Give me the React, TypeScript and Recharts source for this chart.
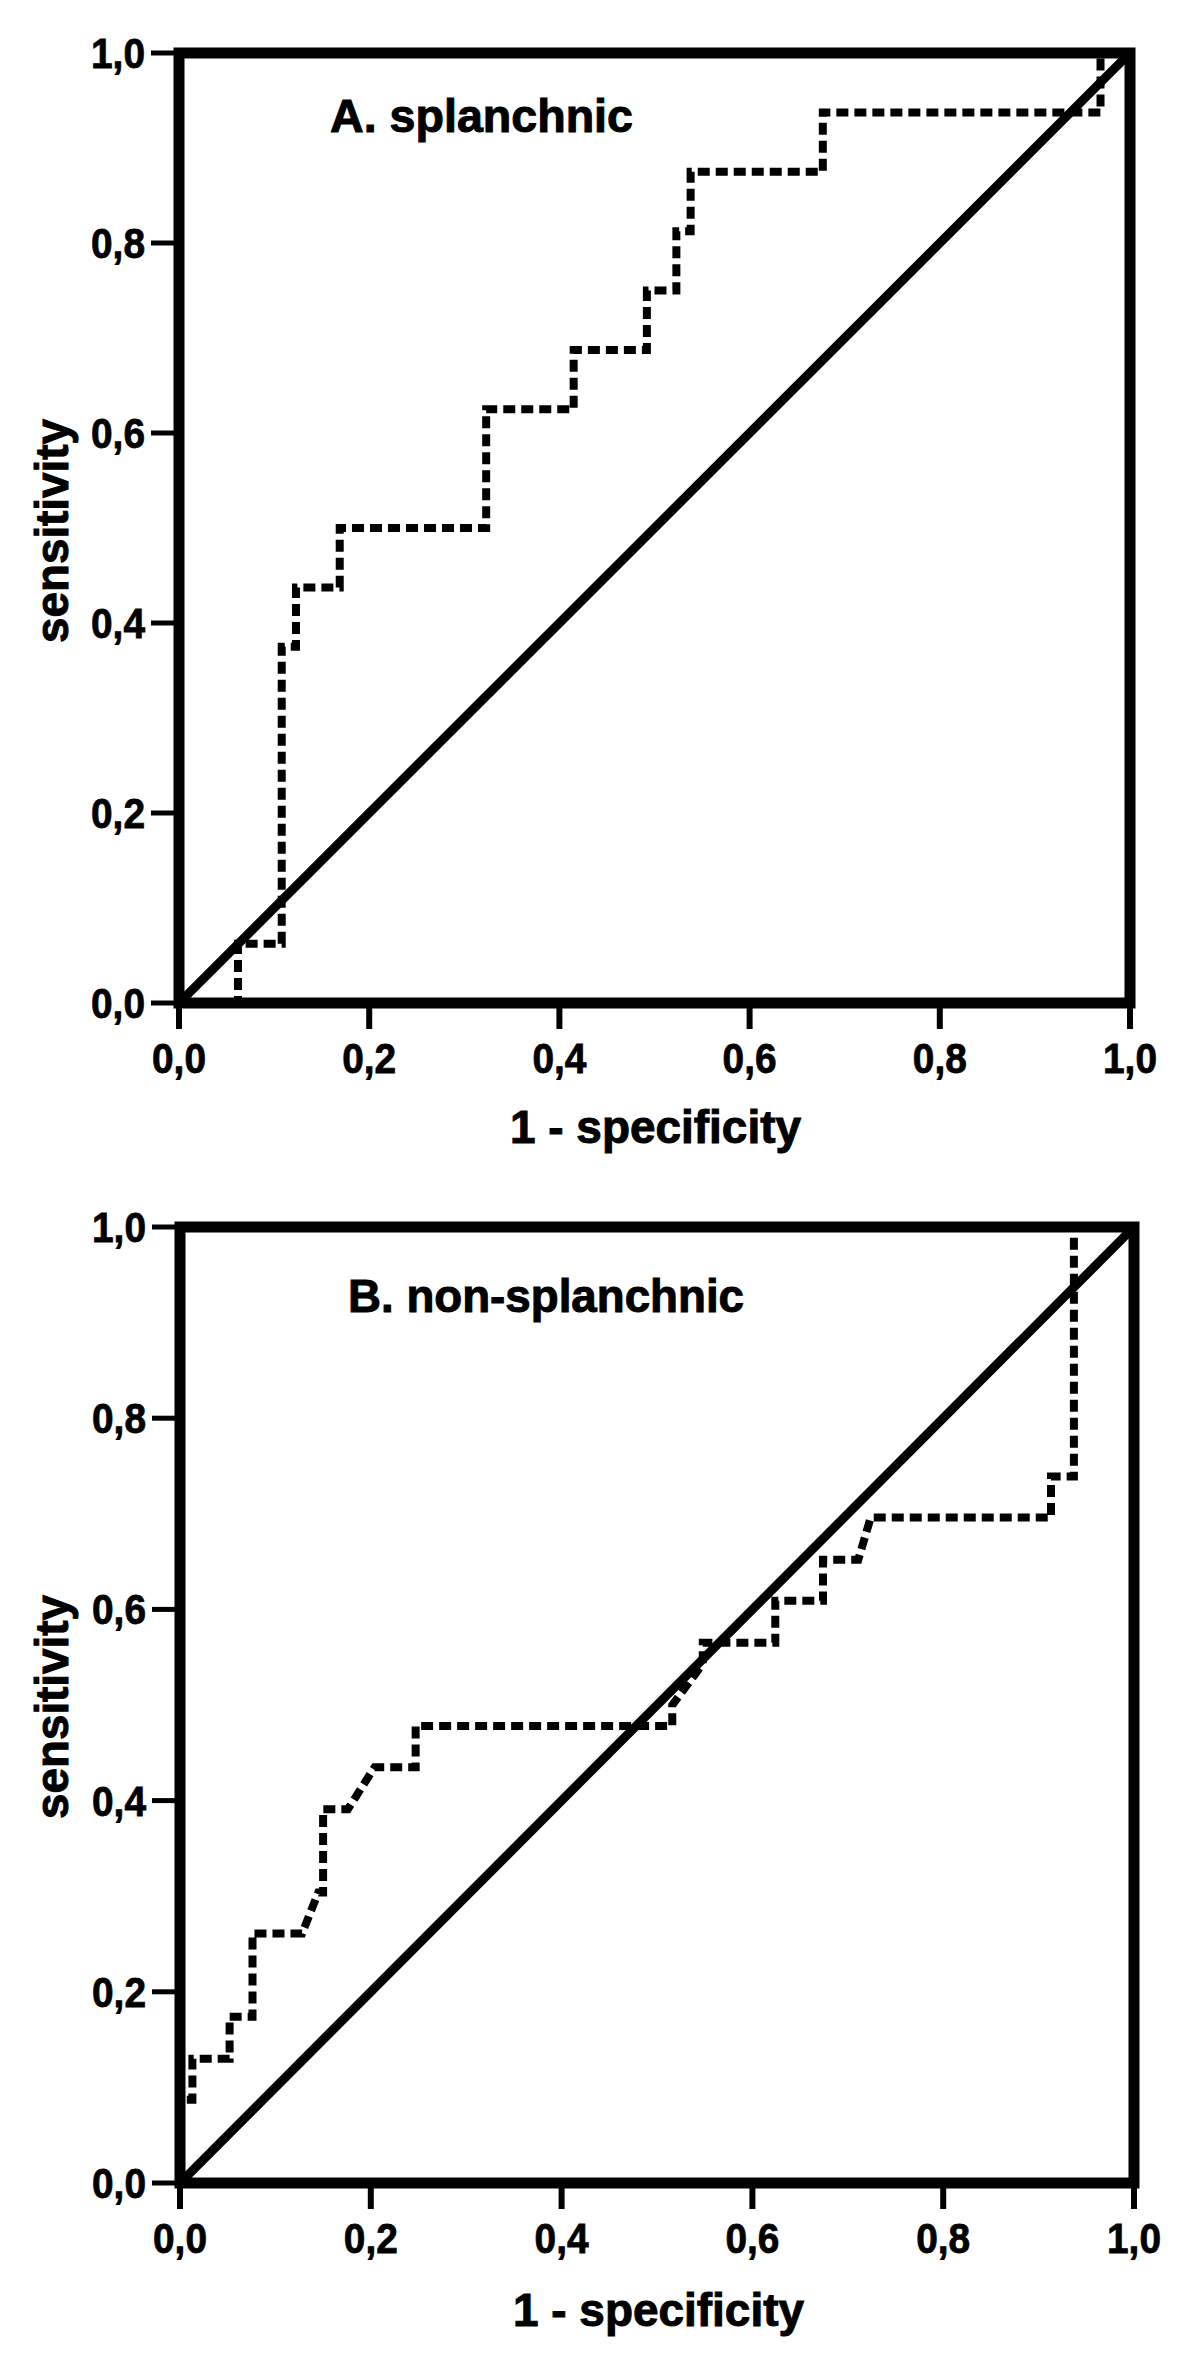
import { LineChart, Line, XAxis, YAxis, ReferenceArea } from 'recharts'

// 1 - specificity / sensitivity
const fprA = [0, 0.062, 0.062, 0.108, 0.108, 0.123, 0.123, 0.169, 0.169, 0.323, 0.323, 0.415, 0.415, 0.492, 0.492, 0.523, 0.523, 0.538, 0.538, 0.677, 0.677, 0.969, 0.969, 1]
const tprA = [0, 0, 0.0625, 0.0625, 0.375, 0.375, 0.4375, 0.4375, 0.5, 0.5, 0.625, 0.625, 0.6875, 0.6875, 0.75, 0.75, 0.8125, 0.8125, 0.875, 0.875, 0.9375, 0.9375, 1, 1]

const fprB = [0, 0, 0.013, 0.013, 0.052, 0.052, 0.076, 0.076, 0.128, 0.145, 0.15, 0.15, 0.176, 0.204, 0.247, 0.247, 0.516, 0.516, 0.548, 0.548, 0.624, 0.624, 0.674, 0.674, 0.711, 0.724, 0.913, 0.913, 0.937, 0.937, 1]
const tprB = [0, 0.087, 0.087, 0.13, 0.13, 0.174, 0.174, 0.261, 0.261, 0.304, 0.304, 0.391, 0.391, 0.435, 0.435, 0.478, 0.478, 0.5, 0.543, 0.565, 0.565, 0.609, 0.609, 0.652, 0.652, 0.696, 0.696, 0.739, 0.739, 1, 1]

const refX = [0, 1]
const refY = [0, 1]
const axisTicks = [0, 0.2, 0.4, 0.6, 0.8, 1]

const zip = (xs: number[], ys: number[]) => xs.map((x, i) => ({ x, y: ys[i] }))

const FONT = '"Liberation Sans", Arial, sans-serif'
const fmt = (v: number) => v.toFixed(1).replace('.', ',')
const heavy = { fontFamily: FONT, fontWeight: 700, fill: '#000', stroke: '#000', strokeWidth: 0.8 } as const

// scanned tick labels are a bit taller and narrower than plain Arial
const XTick = ({ x, y, payload }: any) => (
  <text x={x} y={y + 30} textAnchor="middle" fontSize={42} textLength={54} lengthAdjust="spacingAndGlyphs" style={heavy}>
    {fmt(payload.value)}
  </text>
)
const YTick = ({ x, y, payload }: any) => (
  <text x={x} y={y + 15} textAnchor="end" fontSize={42} textLength={54} lengthAdjust="spacingAndGlyphs" style={heavy}>
    {fmt(payload.value)}
  </text>
)

function RocPanel({ data, height, margin }: any) {
  return (
    <LineChart width={1200} height={height} margin={margin}>
      <XAxis
        dataKey="x" type="number" domain={[0, 1]} ticks={axisTicks}
        height={100} axisLine={false} tickSize={26} tickMargin={14}
        tickLine={{ stroke: '#000', strokeWidth: 6 }} tick={<XTick />} allowDataOverflow
      />
      <YAxis
        dataKey="y" type="number" domain={[0, 1]} ticks={axisTicks}
        width={150} axisLine={false} tickSize={28} tickMargin={6}
        tickLine={{ stroke: '#000', strokeWidth: 5 }} tick={<YTick />} allowDataOverflow
      />
      <ReferenceArea x1={0} x2={1} y1={0} y2={1} fill="none" stroke="#000" strokeWidth={11} fillOpacity={0} />
      <Line data={zip(refX, refY)} dataKey="y" type="linear" stroke="#000" strokeWidth={9} dot={false} isAnimationActive={false} />
      <Line data={data} dataKey="y" type="linear" stroke="#000" strokeWidth={8} strokeDasharray="12 6" dot={false} isAnimationActive={false} />
    </LineChart>
  )
}

const lbl = { ...heavy, fontSize: 46, strokeWidth: 1 } as const

export default function App() {
  return (
    <div style={{ position: 'absolute', left: 0, top: 0, width: 1200, height: 2380, background: '#fff' }}>
      <div style={{ position: 'absolute', left: 0, top: 0 }}>
        <RocPanel data={zip(fprA, tprA)} height={1180} margin={{ top: 53, right: 70, bottom: 77, left: 29 }} />
      </div>
      <div style={{ position: 'absolute', left: 0, top: 1180 }}>
        <RocPanel data={zip(fprB, tprB)} height={1200} margin={{ top: 47, right: 66, bottom: 97, left: 30 }} />
      </div>
      <svg width={1200} height={2380} style={{ position: 'absolute', left: 0, top: 0, pointerEvents: 'none' }}>
        <text x={330} y={132} textLength={303} lengthAdjust="spacingAndGlyphs" style={lbl}>A. splanchnic</text>
        <text x={510} y={1143} textLength={291} lengthAdjust="spacingAndGlyphs" style={lbl}>1 - specificity</text>
        <text x={68} y={643} transform="rotate(-90 68 643)" textLength={224} lengthAdjust="spacingAndGlyphs" style={lbl}>sensitivity</text>
        <text x={348} y={1312} textLength={396} lengthAdjust="spacingAndGlyphs" style={lbl}>B. non-splanchnic</text>
        <text x={513} y={2326} textLength={291} lengthAdjust="spacingAndGlyphs" style={lbl}>1 - specificity</text>
        <text x={68} y={1819} transform="rotate(-90 68 1819)" textLength={224} lengthAdjust="spacingAndGlyphs" style={lbl}>sensitivity</text>
      </svg>
    </div>
  )
}
